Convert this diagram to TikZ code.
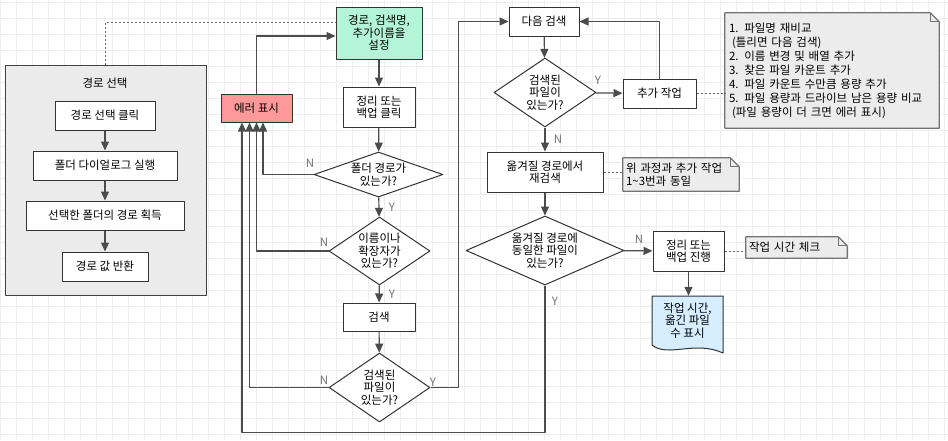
\documentclass[tikz,border=0pt]{standalone}
\usepackage{fontspec}
\setmainfont{Noto Sans CJK KR}
\usetikzlibrary{arrows.meta,shapes.geometric,positioning}
\definecolor{mint}{RGB}{179,245,214}
\definecolor{errred}{RGB}{255,153,153}
\definecolor{docblue}{RGB}{214,238,255}
\definecolor{notegray}{RGB}{236,236,236}
\definecolor{grpgray}{RGB}{235,235,235}
\begin{document}
\begin{tikzpicture}[x=1pt,y=-1pt,font=\fontsize{11.5}{12.5}\selectfont,line join=round,>={Triangle[length=9pt,width=8pt]},
	box/.style={draw=black!80,line width=1pt,fill=white,inner sep=0pt,align=center},
	dec/.style={diamond,draw=black!80,line width=1pt,fill=white,inner sep=0pt},
	dectext/.style={align=center,inner sep=0pt},
	flow/.style={->,draw=black!70,line width=1.2pt},
	notebox/.style={fill=notegray,inner sep=0pt,align=left},
	noteline/.style={draw=black!55,line width=1.2pt},
	notelink/.style={draw=black!60,line width=1pt,dash pattern=on 2pt off 2pt},
	yn/.style={text=black!55,inner sep=0pt}]
	\useasboundingbox (0,0) rectangle (948,440);
	\fill[white] (0,0) rectangle (948,440);
	\foreach \g in {0,16,...,944} \draw[black!7,line width=1pt] (\g,0) -- (\g,440);
	\foreach \g in {2,18,...,434} \draw[black!7,line width=1pt] (0,\g) -- (948,\g);
	\node[draw=black!75,line width=1pt,fill=grpgray,minimum width=201pt,minimum height=230pt] (grp) at (105.5,180) {};
	\node (grpt) at (105,83) {경로 선택};
	\node[box,minimum width=100pt,minimum height=29pt] (b1) at (105,115.5) {경로 선택 클릭};
	\node[box,minimum width=144pt,minimum height=29pt] (b2) at (105,165.5) {폴더 다이얼로그 실행};
	\node[box,minimum width=158pt,minimum height=29pt] (b3) at (105,215.5) {선택한 폴더의 경로 획득};
	\node[box,minimum width=86pt,minimum height=29pt] (b4) at (105,266.5) {경로 값 반환};
	\draw[flow] (b1) -- (b2);
	\draw[flow] (b2) -- (b3);
	\draw[flow] (b3) -- (b4);
	\node[box,fill=mint,minimum width=86pt,minimum height=52pt] (cfg) at (379,33) {경로, 검색명,\\추가이름을\\설정};
	\node[box,fill=errred,minimum width=71pt,minimum height=28pt] (err) at (256.5,108) {에러 표시};
	\node[box,minimum width=72pt,minimum height=40pt] (click) at (379,107) {정리 또는\\백업 클릭};
	\node[dec,minimum width=129pt,minimum height=45pt] (d1) at (378.5,174.5) {};
	\node[dectext] (d1t) at (d1) {폴더 경로가\\있는가?};
	\node[dec,minimum width=101pt,minimum height=68pt] (d2) at (379.5,251) {};
	\node[dectext] (d2t) at (d2) {이름이나\\확장자가\\있는가?};
	\node[box,minimum width=72pt,minimum height=28pt] (srch) at (379,317) {검색};
	\node[dec,minimum width=101pt,minimum height=69pt] (d3) at (379.5,387.5) {};
	\node[dectext] (d3t) at (d3) {검색된\\파일이\\있는가?};
	\node[box,minimum width=70pt,minimum height=29pt] (nxt) at (544,21.5) {다음 검색};
	\node[dec,minimum width=102pt,minimum height=69pt] (d5) at (545,92.5) {};
	\node[dectext] (d5t) at (d5) {검색된\\파일이\\있는가?};
	\node[box,minimum width=73pt,minimum height=29pt] (add) at (659.5,93.5) {추가 작업};
	\node[box,minimum width=116pt,minimum height=40pt] (re) at (545,172) {옮겨질 경로에서\\재검색};
	\node[dec,minimum width=158pt,minimum height=69pt] (d4) at (545,250.5) {};
	\node[dectext] (d4t) at (d4) {옮겨질 경로에\\동일한 파일이\\있는가?};
	\node[box,minimum width=71pt,minimum height=40pt] (bak) at (688.5,251) {정리 또는\\백업 진행};
	\draw[draw=black!80,line width=1pt,fill=docblue] (652,296) -- (723,296) -- (723,353) .. controls (695,340) and (668,358) .. (652,345) -- cycle;
	\node[align=center,inner sep=0pt,minimum width=71pt,minimum height=49pt] (doc) at (687.5,320.5) {작업 시간,\\옮긴 파일\\수 표시};
	\node[notebox,font=\fontsize{11.5}{14}\selectfont,minimum width=214pt,minimum height=115pt,text width=206pt] (memo) at (832,70.5) {1. 파일명 재비교\\\hspace*{3pt}(틀리면 다음 검색)\\2. 이름 변경 및 배열 추가\\3. 찾은 파일 카운트 추가\\4. 파일 카운트 수만큼 용량 추가\\5. 파일 용량과 드라이브 남은 용량 비교\\\hspace*{3pt}(파일 용량이 더 크면 에러 표시)};
	\node[notebox,minimum width=116pt,minimum height=33pt,text width=110pt] (memo2) at (681,174.5) {위 과정과 추가 작업\\1\textasciitilde3번과 동일};
	\node[notebox,minimum width=101pt,minimum height=21pt,text width=95pt] (memo3) at (796.5,247.5) {작업 시간 체크};
	\foreach \m in {memo,memo2,memo3} {
		\fill[white] (\m.north east) ++(-9,0) -- ++(9,0) -- ++(0,9) -- cycle;
		\draw[noteline] (\m.north west) -- ([xshift=-9pt]\m.north east) -- ([yshift=-9pt]\m.north east) -- (\m.south east) -- (\m.south west) -- cycle;
		\draw[noteline] ([xshift=-9pt]\m.north east) |- ([yshift=-9pt]\m.north east);
	}
	\draw[notelink] (grp.north) |- ([yshift=11pt]cfg.west);
	\draw[flow] (err.north) |- ([yshift=-3pt]cfg.west);
	\draw[flow] (cfg) -- (click);
	\draw[flow] (click) -- (d1);
	\draw[flow] (d1) -- (d2);
	\draw[flow] (d2) -- (srch);
	\draw[flow] (srch) -- (d3);
	\draw[flow] (d1.west) -| ([xshift=6.5pt]err.south);
	\draw[flow] (d2.west) -| (err.south);
	\draw[flow] (d3.west) -| ([xshift=-7pt]err.south);
	\draw[flow] (d4.south) -- ++(0,147) -| ([xshift=-14.5pt]err.south);
	\draw[flow] (d3.east) -- ++(28,0) |- (nxt.west);
	\draw[flow] (nxt) -- (d5);
	\draw[flow] (d5) -- (add);
	\draw[flow] (add.north) |- (nxt.east);
	\draw[flow] (d5) -- (re);
	\draw[flow] (re) -- (d4);
	\draw[flow] (d4) -- (bak);
	\draw[flow] (bak.south) -- (bak.south |- doc.north);
	\draw[notelink] (add.east) -- (add.east -| memo.west);
	\draw[notelink] (re.east) -- (re.east -| memo2.west);
	\draw[notelink] (bak.east) -- (bak.east -| memo3.west);
	\node[yn] (n1) at (310,163) {N};
	\node[yn] (y1) at (392,207) {Y};
	\node[yn] (n2) at (324,242) {N};
	\node[yn] (y2) at (392,294) {Y};
	\node[yn] (n3) at (324,380) {N};
	\node[yn] (y3) at (433,382) {Y};
	\node[yn] (y5) at (598,80) {Y};
	\node[yn] (n5) at (558,139) {N};
	\node[yn] (n4) at (639,239) {N};
	\node[yn] (y4) at (555,301) {Y};
\end{tikzpicture}
\end{document}
